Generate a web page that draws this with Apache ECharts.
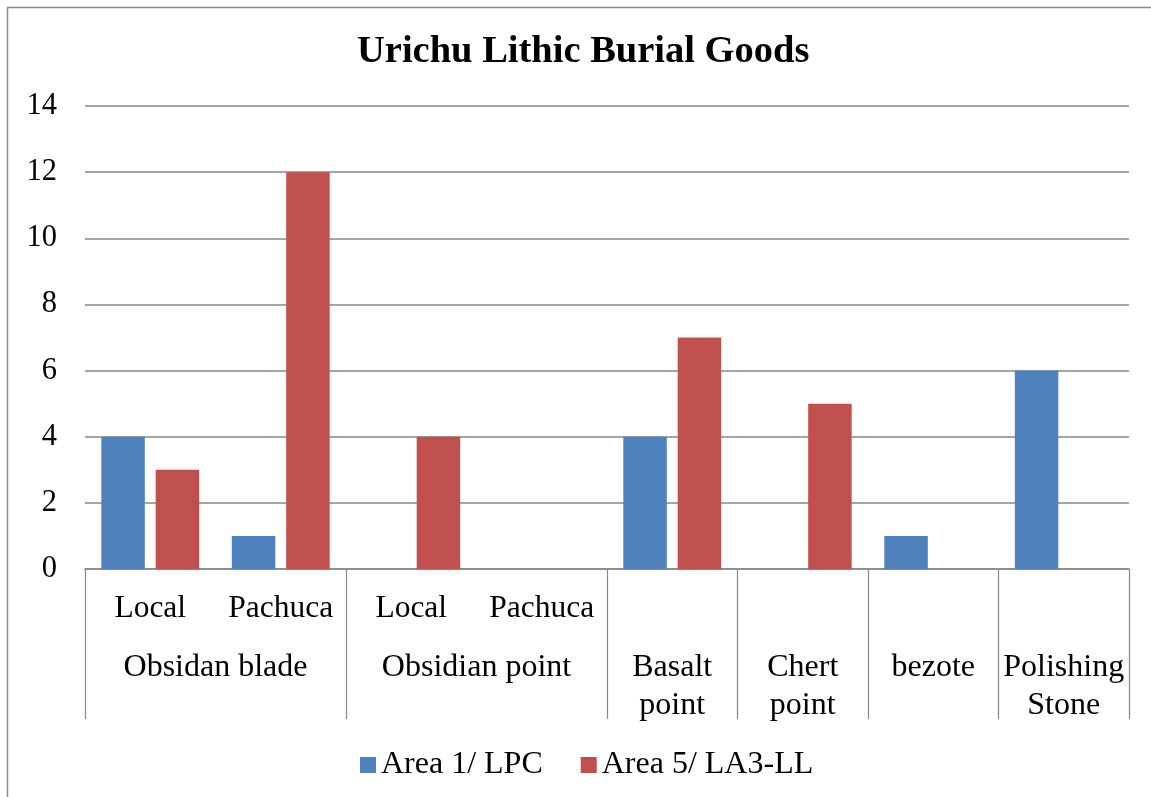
<!DOCTYPE html>
<html>
<head>
<meta charset="utf-8">
<title>Urichu Lithic Burial Goods</title>
<script src="https://cdn.jsdelivr.net/npm/echarts@6/dist/echarts.min.js"></script>
<style>
  html, body { margin: 0; padding: 0; background: #ffffff; }
  #chart { width: 1151px; height: 797px; }
</style>
</head>
<body>
<div id="chart"></div>
<script>
// Inner category labels (one per column)
const subLabels = ['Local', 'Pachuca', 'Local', 'Pachuca', '', '', '', ''];
// Outer group labels and how many columns each group spans
const groupNames = ['Obsidan blade', 'Obsidian point', 'Basalt\npoint', 'Chert\npoint', 'bezote', 'Polishing\nStone'];
const groupSpans = [2, 2, 1, 1, 1, 1];
// Series
const seriesNames = ['Area 1/ LPC', 'Area 5/ LA3-LL'];
const area1 = [4, 1, 0, 0, 4, 0, 1, 6];
const area5 = [3, 12, 4, 0, 7, 5, 0, 0];
// Value axis ticks
const yMin = 0, yMax = 14, yStep = 2;

const FONT = 'Liberation Serif, Times New Roman, serif';
const GRID_GRAY = '#878787';

// Group boundaries and centres in column units
const groupEdges = [0];
groupSpans.forEach(s => groupEdges.push(groupEdges[groupEdges.length - 1] + s));
const groupCenters = groupSpans.map((s, i) => groupEdges[i] + s / 2);
const columnKeys = subLabels.map((s, i) => 'c' + i);

const chart = echarts.init(document.getElementById('chart'), null, { renderer: 'canvas' });

chart.setOption({
  animation: false,
  backgroundColor: '#ffffff',
  textStyle: { fontFamily: FONT, color: '#000' },
  title: {
    text: 'Urichu Lithic Burial Goods',
    left: 352,
    top: 28,
    textStyle: { fontFamily: FONT, fontSize: 38.5, fontWeight: 'bold', color: '#000' }
  },
  legend: {
    left: 355,
    top: 744,
    itemWidth: 16,
    itemHeight: 16,
    itemGap: 38,
    icon: 'rect',
    textStyle: { fontFamily: FONT, fontSize: 32, color: '#000' },
    data: seriesNames
  },
  grid: { left: 85, right: 22, top: 106, bottom: 228, containLabel: false },
  xAxis: [
    {
      type: 'category',
      data: columnKeys,
      position: 'bottom',
      axisLine: { show: true, lineStyle: { color: GRID_GRAY, width: 1.5 } },
      axisTick: { show: false },
      axisLabel: {
        interval: 0,
        margin: 24,
        fontFamily: FONT,
        fontSize: 31.5,
        color: '#000',
        formatter: (v, i) => subLabels[i]
      },
      splitLine: { show: false }
    },
    {
      type: 'value',
      min: 0,
      max: subLabels.length,
      position: 'bottom',
      axisLine: { show: false },
      splitLine: { show: false },
      axisTick: {
        show: true,
        inside: false,
        length: 150,
        customValues: groupEdges,
        lineStyle: { color: GRID_GRAY, width: 1.2 }
      },
      axisLabel: {
        show: true,
        margin: 80,
        customValues: groupCenters,
        fontFamily: FONT,
        fontSize: 32,
        lineHeight: 38,
        color: '#000',
        align: 'center',
        formatter: (v) => {
          const k = groupCenters.findIndex(c => Math.abs(c - v) < 1e-6);
          return k >= 0 ? groupNames[k] : '';
        }
      }
    }
  ],
  yAxis: {
    type: 'value',
    min: yMin,
    max: yMax,
    interval: yStep,
    axisLine: { show: false },
    axisTick: { show: false },
    axisLabel: { margin: 28, fontFamily: FONT, fontSize: 30.5, color: '#000' },
    splitLine: { show: true, lineStyle: { color: GRID_GRAY, width: 1.5 } }
  },
  series: [
    {
      name: seriesNames[0],
      type: 'bar',
      xAxisIndex: 0,
      data: area1,
      barGap: '25%',
      barCategoryGap: '25%',
      itemStyle: { color: '#4f81bd' }
    },
    {
      name: seriesNames[1],
      type: 'bar',
      xAxisIndex: 0,
      data: area5,
      barGap: '25%',
      barCategoryGap: '25%',
      itemStyle: { color: '#c0504d' }
    }
  ],
  graphic: [
    {
      type: 'rect',
      silent: true,
      shape: { x: 7.5, y: 7.5, width: 1200, height: 900 },
      style: { fill: 'none', stroke: '#8a8a8a', lineWidth: 1.5 }
    }
  ]
});
</script>
</body>
</html>
